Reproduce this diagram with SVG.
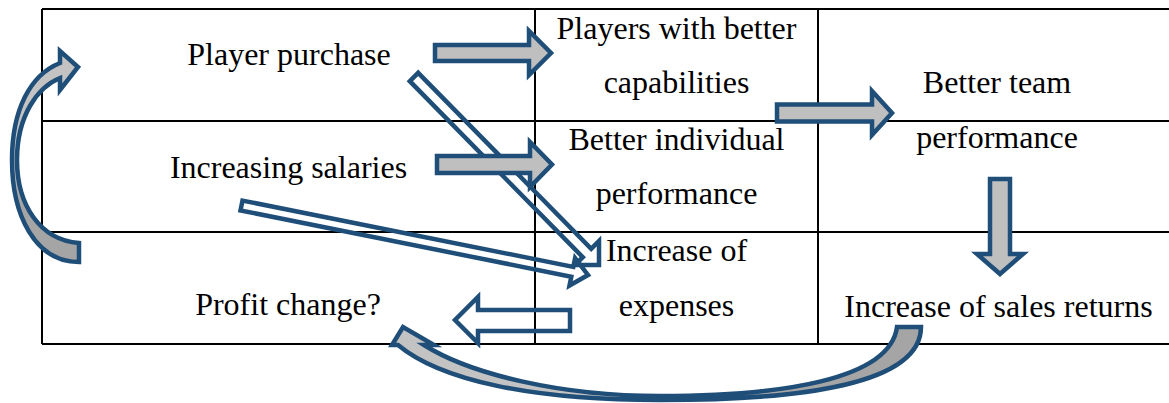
<svg xmlns="http://www.w3.org/2000/svg" width="1169" height="403" viewBox="0 0 1169 403">
<style>
.grid{stroke:#000;stroke-width:2;fill:none}
.t{font-family:"Liberation Serif","Times New Roman",serif;font-size:32px;fill:#000;text-anchor:middle}
.blk{fill:#BFBFBF;stroke:#1F4E79;stroke-width:4.5;stroke-linejoin:miter}
.hol{fill:none;stroke:#1F4E79;stroke-width:4.5;stroke-linejoin:miter}
.crv{stroke:#1F4E79;stroke-width:4.5;stroke-linejoin:miter}
</style>
<defs>
<linearGradient id="gL" x1="0" y1="0" x2="0" y2="1">
<stop offset="0" stop-color="#C3C3C3"/>
<stop offset="0.55" stop-color="#C3C3C3"/>
<stop offset="0.7" stop-color="#A5A5A5"/>
<stop offset="1" stop-color="#A5A5A5"/>
</linearGradient>
<linearGradient id="gB" x1="0" y1="0" x2="1" y2="0">
<stop offset="0" stop-color="#C3C3C3"/>
<stop offset="0.55" stop-color="#C3C3C3"/>
<stop offset="0.75" stop-color="#A5A5A5"/>
<stop offset="1" stop-color="#A5A5A5"/>
</linearGradient>
</defs>
<rect width="1169" height="403" fill="#fff"/>
<g id="table">
<path class="grid" d="M42,9 H1169 M42,121 H1169 M42,232 H1169 M42,344 H1169 M42,9 V344 M535,9 V344 M818,9 V344"/>
</g>
<g id="n-player-purchase"><text class="t" x="289" y="65">Player purchase</text></g>
<g id="n-players-better"><text class="t" x="676.5" y="38.5">Players with better</text><text class="t" x="676.5" y="92.5">capabilities</text></g>
<g id="n-team-performance"><text class="t" x="997" y="93">Better team</text><text class="t" x="997" y="148">performance</text></g>
<g id="n-increasing-salaries"><text class="t" x="288.5" y="178">Increasing salaries</text></g>
<g id="n-individual-performance"><text class="t" x="676.5" y="149.5">Better individual</text><text class="t" x="676.5" y="204">performance</text></g>
<g id="n-expenses"><text class="t" x="676.5" y="261">Increase of</text><text class="t" x="676.5" y="316">expenses</text></g>
<g id="n-profit"><text class="t" x="288" y="315">Profit change?</text></g>
<g id="n-sales"><text class="t" x="998.5" y="316.5">Increase of sales returns</text></g>
<g id="connectors">
<path class="hol" d="M418.2,72.8 L591.2,248.8 L599,241 L599,265 L575,265 L582.8,257.2 L409.8,81.2 Z"/>
<path class="hol" d="M242.5,200.6 L573.3,266.9 L575.1,258.1 L588,275 L569.5,285.5 L571.3,276.7 L240.5,210.4 Z"/>
<path class="hol" d="M570,310 V331 H478 V343 L455,320 L478,297 V310 Z"/>
<path class="blk" d="M435,45 H529 V31 L551,53 L529,75 V61 H435 Z"/>
<path class="blk" d="M437,156 H530 V142 L552,164.5 L530,187 V173 H437 Z"/>
<path class="blk" d="M777,104.5 H872 V91 L892,113 L872,135 V121.5 H777 Z"/>
<path class="blk" d="M990,179 H1010 V254 H1023 L1000,274 L977,254 H990 Z"/>
<path class="crv" fill="url(#gL)" d="M79,262 C35,262 12,215 12,160 C12,110 30,75 60,63 L60,51 L78,67 L60,90 L60,78 C38,87 17,115 17,160 C17,205 40,240 79,243 Z"/>
<path class="crv" fill="url(#gB)" d="M921,327 C921,385 800,400 660,400 C530,400 440,380 398,345 L392,345 L403,327 L434,345 L424,345 C470,374 560,396 660,396 C780,396 890,380 897,327 Z"/>
</g>
</svg>
